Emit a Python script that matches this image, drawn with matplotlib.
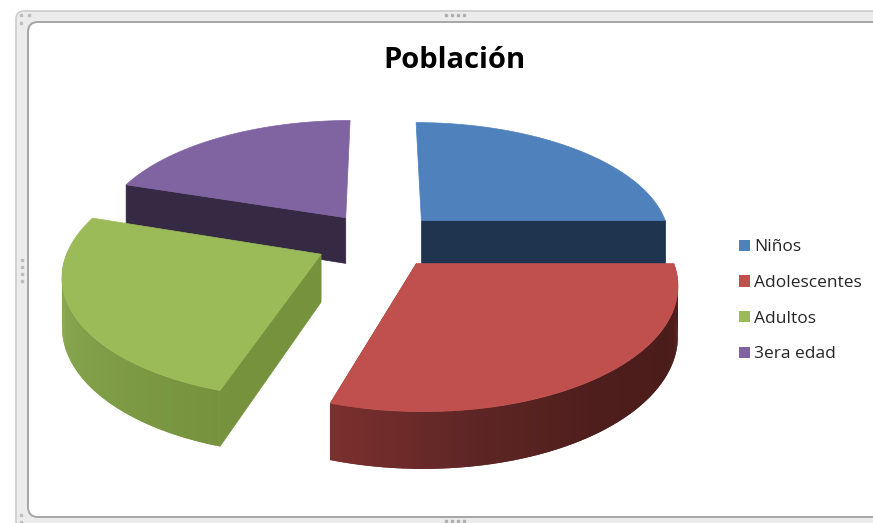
import numpy as np
import matplotlib
matplotlib.use("Agg")
import matplotlib.pyplot as plt
from matplotlib.patches import FancyBboxPatch, Patch, Polygon

categories = ["Niños", "Adolescentes", "Adultos", "3era edad"]
values = [25, 29.95, 25.05, 20]
title = "Población"

top_colors = ["#4f81bd", "#c0504d", "#9bbb59", "#8064a2"]
face_colors = ["#1f344f", "#7a302e", "#76923c", "#352943"]
# outer wall shading along each slice, from start to end of its arc
wall_colors = [["#1f344f", "#1f344f"],
               ["#5a2422", "#4a1c1a", "#4e1e1c", "#5e2625", "#7a302e"],
               ["#76923c", "#7f9c46", "#8aa852", "#8aa852"],
               ["#352943", "#352943"]]
# which cut face of each slice looks at the viewer
visible_face = [-1, -1, 0, 0]
explode = [0.24, 0.24, 0.26, 0.24]

CX, CY = 380.0, 240.0      # centre of the unexploded pie, in pixels
RX, RY = 250.0, 118.0      # radii on screen
DEPTH = 47.0
PERSP = 0.15


def project(x, y, z=0.0):
    s = 1.0 / (1.0 - PERSP * y)
    return CX + RX * x * s, CY + (RY * y + DEPTH * z) * s


def to_rgb(c):
    return np.array(matplotlib.colors.to_rgb(c))


fig, ax = plt.subplots(figsize=(8.73, 5.23), dpi=100)
ax.set_position([0, 0, 1, 1])
ax.set_xlim(0, 873)
ax.set_ylim(523, 0)
ax.axis("off")

# chart frame
ax.add_patch(FancyBboxPatch((16, 11), 900, 520, boxstyle="round,pad=0,rounding_size=8",
                            fc="#ececec", ec="#cccccc", lw=1.2))
ax.add_patch(FancyBboxPatch((28, 22), 900, 495, boxstyle="round,pad=0,rounding_size=10",
                            fc="white", ec="#a6a6a6", lw=1.4))
for gx, gy in [(21, 15), (29, 15), (21, 23), (21, 515), (21, 522)]:
    ax.plot(gx, gy, "s", ms=2, color="#bdbdbd")
for gx in [446, 452, 458, 464]:
    ax.plot(gx, 15, "s", ms=1.5, color="#b0b0b0")
    ax.plot(gx, 521, "s", ms=1.5, color="#b0b0b0")
for gy in [260, 267, 274, 281]:
    ax.plot(22, gy, "s", ms=1.5, color="#bdbdbd")

# slice angles, clockwise from the top
fractions = np.array(values) / np.sum(values)
edges = np.concatenate([[0], np.cumsum(fractions)]) * 2 * np.pi

# painter's order: back slices first
for i in [3, 0, 2, 1]:
    th = np.linspace(edges[i], edges[i + 1], 120)
    mid = (edges[i] + edges[i + 1]) / 2
    ox, oy = explode[i] * np.sin(mid), -explode[i] * np.cos(mid)
    rim_x, rim_y = ox + np.sin(th), oy - np.cos(th)

    # flat face of the cut
    k = visible_face[i]
    pts = [project(ox, oy), project(rim_x[k], rim_y[k]),
           project(rim_x[k], rim_y[k], 1), project(ox, oy, 1)]
    ax.add_patch(Polygon(pts, fc=face_colors[i], ec=face_colors[i], lw=0.5))

    # outer wall as thin overlapping strips so that it can be shaded
    shades = np.array([to_rgb(c) for c in wall_colors[i]])
    stops = np.linspace(0, 1, len(shades))
    for k in range(len(th) - 1):
        if np.cos(th[k]) > 0.02:   # back of the pie, not seen
            continue
        t = k / (len(th) - 2)
        col = [np.interp(t, stops, shades[:, n]) for n in range(3)]
        e = min(k + 2, len(th) - 1)
        pts = [project(rim_x[k], rim_y[k]), project(rim_x[e], rim_y[e]),
               project(rim_x[e], rim_y[e], 1), project(rim_x[k], rim_y[k], 1)]
        ax.add_patch(Polygon(pts, fc=col, ec="none", lw=0))

    # top of the slice
    pts = [project(ox, oy)] + [project(a, b) for a, b in zip(rim_x, rim_y)]
    ax.add_patch(Polygon(pts, fc=top_colors[i], ec=top_colors[i], lw=0.5))

ax.text(454, 60, title, ha="center", va="center", fontsize=21,
        fontweight="bold", family="Open Sans", color="black")

handles = [Patch(fc=c, ec="none", label=n) for c, n in zip(top_colors, categories)]
ax.legend(handles=handles, loc="upper left", bbox_to_anchor=(735, 235),
          bbox_transform=ax.transData, frameon=False,
          prop={"family": "Open Sans", "size": 12.5}, labelcolor="#262626",
          handlelength=0.63, handleheight=0.63, handletextpad=0.22,
          labelspacing=1.135, borderpad=0.25, borderaxespad=0)

fig.savefig("out.png", dpi=100)
plt.close(fig)
